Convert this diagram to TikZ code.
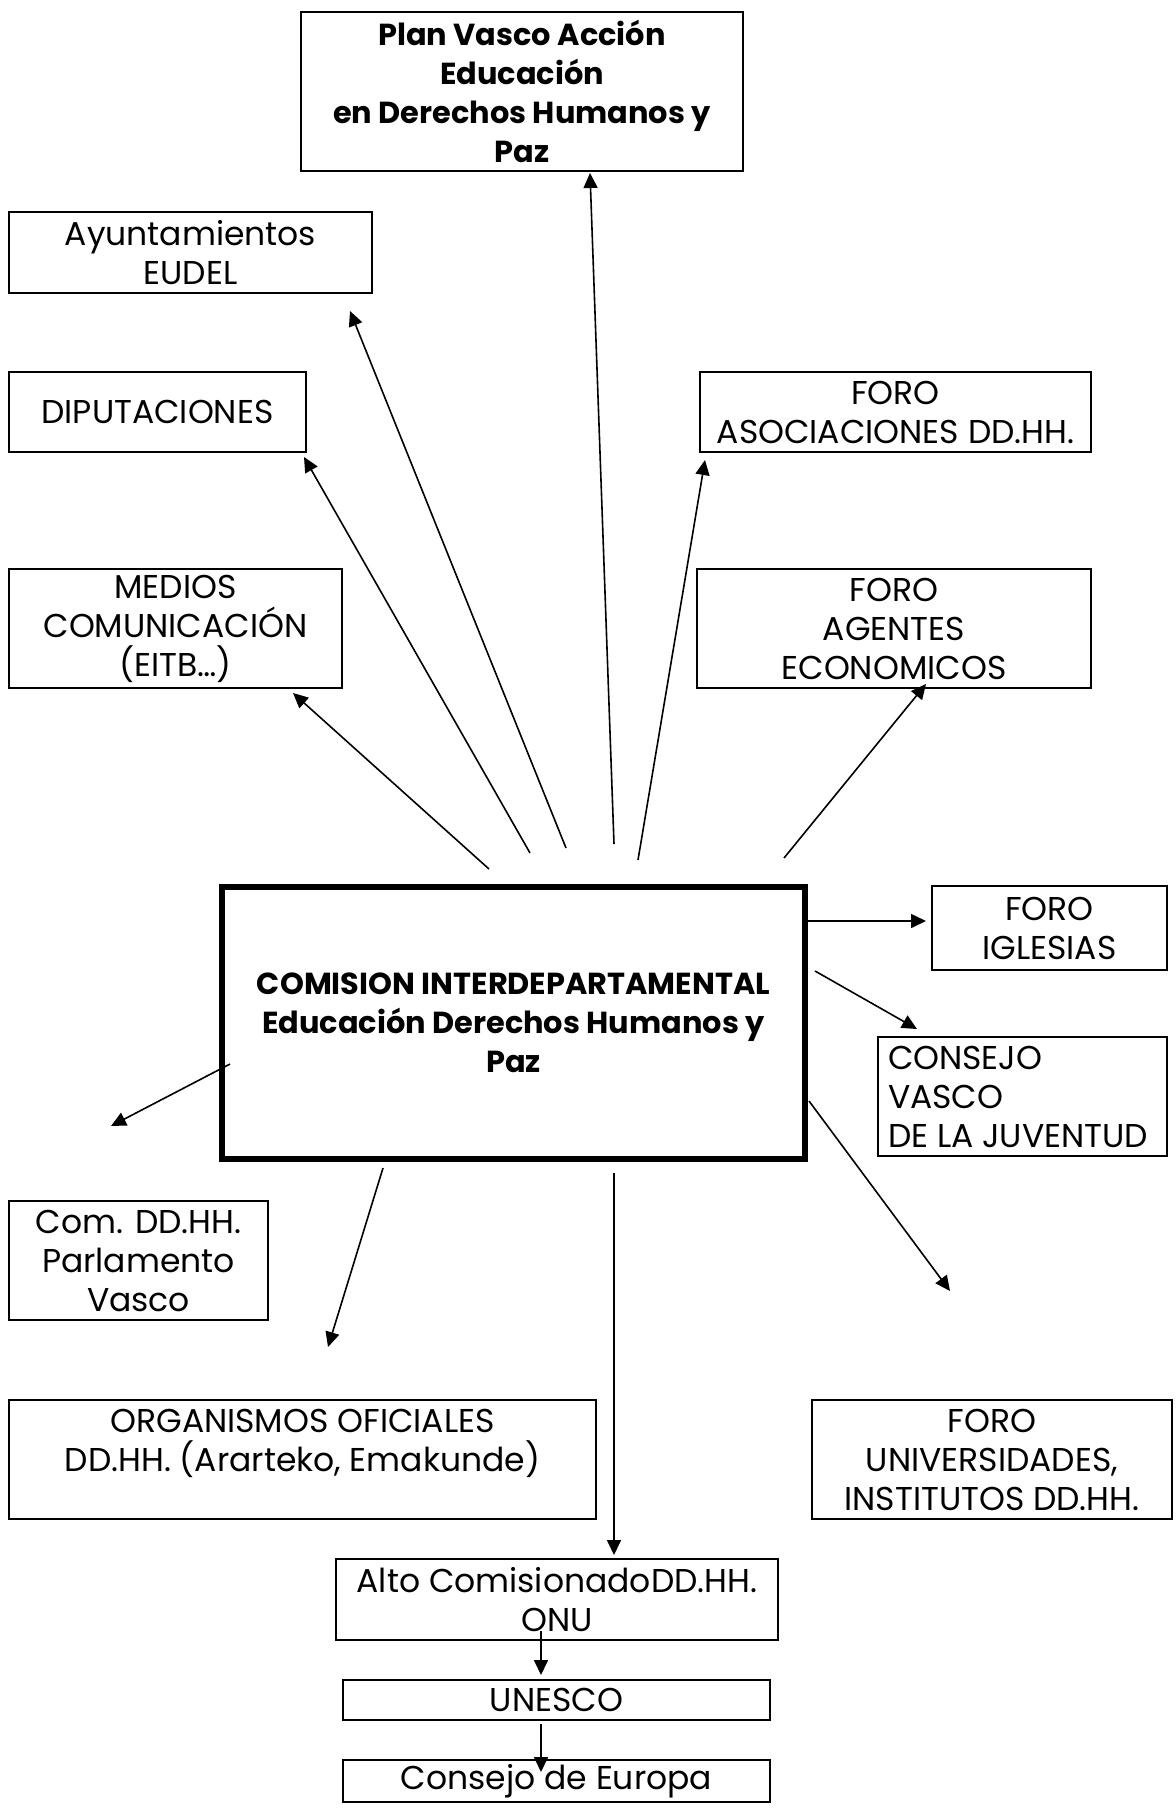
\documentclass[tikz,border=0pt]{standalone}
\usepackage{fontspec}
\setmainfont{Poppins}
\usetikzlibrary{arrows.meta,positioning}

\tikzset{
    caja/.style={draw, line width=1pt, align=center, inner sep=0pt,
        font=\fontsize{16.5}{19.5}\selectfont},
    negrita/.style={font=\fontsize{15.2}{19.5}\selectfont\bfseries},
    central/.style={caja, negrita, line width=3pt},
    >={Triangle[length=7.5pt,width=7pt]}
}

\begin{document}
\begin{tikzpicture}[x=0.5pt, y=-0.5pt, line width=0.8pt]
                                \useasboundingbox (0,0) rectangle (1176,1809);
                                \node[caja, negrita, line width=1.3pt,
                                    minimum width=221pt, minimum height=79.5pt] (plan) at (522,91.5)
                                    {Plan Vasco Acción\\Educación\\en Derechos Humanos y\\Paz};
                                \node[caja, minimum width=181.5pt, minimum height=40.5pt] (ayunt) at (190.5,252.5)
                                    {Ayuntamientos\\EUDEL};
                                \node[caja, minimum width=148.5pt, minimum height=40pt] (diput) at (157.5,412)
                                    {DIPUTACIONES};
                                \node[caja, minimum width=195.5pt, minimum height=40pt] (asoc) at (895.5,412)
                                    {FORO\\ASOCIACIONES DD.HH.};
                                \node[caja, minimum width=166.5pt, minimum height=59.5pt] (medios) at (175.5,628.5)
                                    {MEDIOS\\COMUNICACIÓN\\(EITB\dots)};
                                \node[caja, minimum width=197pt, minimum height=59.5pt] (agentes) at (894,628.5)
                                    {FORO\\AGENTES\\ECONOMICOS};
                                \node[central, minimum width=291.5pt, minimum height=136pt] (comision) at (513.5,1023)
                                    {COMISION INTERDEPARTAMENTAL\\Educación Derechos Humanos y\\Paz};
                                \node[caja, minimum width=117.5pt, minimum height=42pt] (iglesias) at (1049.5,928)
                                    {FORO\\IGLESIAS};
                                \node[caja, align=flush left, text width=134.5pt, inner xsep=5pt,
                                    minimum height=59.5pt] (juventud) at (1022.5,1096.5)
                                    {CONSEJO\\VASCO\\\mbox{DE LA JUVENTUD}};
                                \node[caja, minimum width=129.5pt, minimum height=59.5pt] (parlamento) at (138.5,1260.5)
                                    {Com. DD.HH.\\Parlamento\\Vasco};
                                \node[caja, minimum width=293.5pt, minimum height=59.5pt] (organismos) at (302.5,1459.5)
                                    {ORGANISMOS OFICIALES\\DD.HH. (Ararteko, Emakunde)\\\mbox{}};
                                \node[caja, minimum width=180pt, minimum height=59.5pt] (univ) at (992,1459.5)
                                    {FORO\\UNIVERSIDADES,\\INSTITUTOS DD.HH.};
                                \node[caja, minimum width=221pt, minimum height=40.5pt] (onu) at (557,1599.5)
                                    {Alto ComisionadoDD.HH.\\ONU};
                                \node[caja, minimum width=213.5pt, minimum height=20pt] (unesco) at (556.5,1700)
                                    {UNESCO};
                                \node[caja, minimum width=213.5pt, minimum height=21pt] (europa) at (556.5,1781)
                                    {Consejo de Europa};
                                % sueltos
                                \coordinate (c1) at (614,844);   \coordinate (t1) at (590,173);
                                \coordinate (c2) at (566,848);   \coordinate (t2) at (350,311);
                                \coordinate (c3) at (530,853);   \coordinate (t3) at (304,457);
                                \coordinate (c4) at (489,869);   \coordinate (t4) at (293,693);
                                \coordinate (c5) at (638,860);   \coordinate (t5) at (705,460);
                                \coordinate (c6) at (784,858);   \coordinate (t6) at (926,684);
                                \coordinate (c7) at (807,921);   \coordinate (t7) at (926,921);
                                \coordinate (c8) at (815,971);   \coordinate (t8) at (917,1029);
                                \coordinate (c9) at (230,1064);  \coordinate (t9) at (111,1126);
                                \coordinate (c10) at (383,1168); \coordinate (t10) at (328,1347);
                                \coordinate (c11) at (614,1173); \coordinate (t11) at (614,1555);
                                \coordinate (c12) at (809,1101); \coordinate (t12) at (950,1291);
                                \coordinate (c13) at (541,1631); \coordinate (t13) at (541,1675);
                                \coordinate (c14) at (541,1724); \coordinate (t14) at (541,1772);
                                \draw
                                (c1) edge[->] (t1)
                                (c2) edge[->] (t2)
                                (c3) edge[->] (t3)
                                (c4) edge[->] (t4)
                                (c5) edge[->] (t5)
                                (c6) edge[->] (t6)
                                (c7) edge[->] (t7)
                                (c8) edge[->] (t8)
                                (c9) edge[->] (t9)
                                (c10) edge[->] (t10)
                                (c11) edge[->] (t11)
                                (c12) edge[->] (t12)
                                (c13) edge[->] (t13)
                                (c14) edge[->] (t14);
                            \end{tikzpicture}
\end{document}
